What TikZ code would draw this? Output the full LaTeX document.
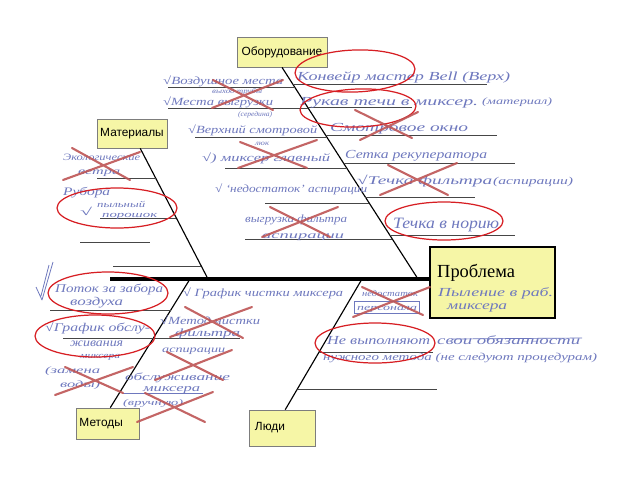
\documentclass[tikz,border=0pt]{standalone}
\usepackage{fontspec}
\usepackage{graphicx}
\setmainfont{Liberation Serif}
\newfontfamily\boxfont{Liberation Sans}
\newfontfamily\probfont{Liberation Serif}
\newfontfamily\handfont{Liberation Serif}
\newlength\pxu \setlength\pxu{0.04cm}
\newcommand\hw[3]{\resizebox{#1\pxu}{\height}{\fontsize{#2}{#2}\selectfont #3}}
\definecolor{boxy}{RGB}{246,246,166}
\definecolor{boxb}{RGB}{125,125,125}
\definecolor{hand}{RGB}{110,120,190}
\definecolor{ered}{RGB}{215,30,35}
\definecolor{xred}{RGB}{190,85,85}
\definecolor{subc}{RGB}{70,70,70}
\begin{document}
\begin{tikzpicture}[x=0.04cm,y=-0.04cm,
  box/.style={draw=boxb, line width=0.8pt, fill=boxy, font=\boxfont\fontsize{13.5}{14}\selectfont, inner sep=0pt},
  spine/.style={line width=4.5pt, black},
  bone/.style={line width=1.3pt, black},
  subl/.style={line width=1pt, subc},
  hwt/.style={anchor=base west, inner sep=0pt, text=hand, font=\handfont\itshape},
  redell/.style={draw=ered, line width=1.4pt},
  redx/.style={draw=xred, line width=2.4pt, line cap=round, opacity=0.9},
  handline/.style={draw=hand, line width=0.8pt}]
\useasboundingbox[fill=white] (0,0) rectangle (640,480);

% ---- boxes
\node[box, minimum width=3.6cm, minimum height=1.2cm] (eq) at (282,52) {Оборудование};
\node[box, minimum width=2.8cm, minimum height=1.16cm] (mat) at (132,133.5) {Материалы};
\node[box, minimum height=1.24cm, text width=2.24cm, inner xsep=0.14cm, align=left] (met) at (107.5,423.5) {Методы};
\node[box, minimum height=1.44cm, text width=2.16cm, inner xsep=0.24cm, align=left] (ppl) at (282,428) {Люди};
\node[draw=black, line width=3pt, fill=boxy, minimum width=5cm, minimum height=2.84cm] (prob) at (492.5,282.5) {};

% ---- spine and bones
\coordinate (sp) at (110,279);
\coordinate (eqE) at (418,279);
\coordinate (matE) at (208,279);
\coordinate (metS) at (190,279);
\coordinate (pplS) at (362,279);
\draw[spine] (sp) -- (sp -| prob.west);
\draw[bone] (eq.south) -- (eqE);
\draw[bone] (mat.299) -- (matE);
\draw[bone] (metS) -- (met.80);
\draw[bone] (pplS) -- (ppl.80);

% ---- sub-cause lines: equipment
\draw[subl] (168,87) -- (294.8,87);
\draw[subl] (168,108) -- (308.3,108);
\draw[subl] (195,137) -- (326.9,137);
\draw[subl] (225,168) -- (346.8,168);
\draw[subl] (265,203) -- (369.2,203);
\draw[subl] (245,239) -- (392.3,239);
\draw[subl] (292.9,84) -- (487,84);
\draw[subl] (307.7,107) -- (412,107);
\draw[subl] (325.6,135) -- (497,135);
\draw[subl] (343.6,163) -- (515,163);
\draw[subl] (365.4,197) -- (475,197);
\draw[subl] (389.8,235) -- (515,235);
% materials
\draw[subl] (97,178) -- (155.6,178);
\draw[subl] (100,218) -- (176.3,218);
\draw[subl] (80,242) -- (150,242);
\draw[subl] (113,266) -- (201.2,266);
% methods
\draw[subl] (50,310) -- (170.8,310);
\draw[subl] (63,338) -- (240,338);
% people
\draw[subl] (319.2,352) -- (433,352);
\draw[subl] (297.5,389) -- (437,389);

% ---- problem text
\node[anchor=base west, inner sep=0pt, font=\probfont\fontsize{21}{21}\selectfont] (ptitle) at (437,277) {Проблема};
\node[hwt] (p1) at (438,296) {\hw{115}{14}{Пыление в раб.}};
\node[hwt] (p2) at (447,309) {\hw{60}{14}{миксера}};

% ---- handwriting: equipment left
\node[hwt] (e1) at (163,84) {\hw{120}{12.5}{√Воздушное места}};
\node[hwt] (e2) at (212,93) {\hw{50}{8}{выход трубы}};
\node[hwt] (e3) at (163,105) {\hw{110}{12.5}{√Места выгрузки}};
\node[hwt] (e4) at (238,116) {\hw{34}{8}{(середина)}};
\node[hwt] (e5) at (188,133) {\hw{129}{12.5}{√Верхний смотровой}};
\node[hwt] (e6) at (255,145) {\hw{14}{8}{люк}};
\node[hwt] (e7) at (202,161) {\hw{128}{12.5}{√) миксер главный}};
\node[hwt] (e8) at (215,192) {\hw{152}{12.5}{√ ‘недостаток’ аспирации}};
\node[hwt] (e9) at (245,222) {\hw{102}{12.5}{выгрузка фильтра}};
\node[hwt] (e10) at (262,238) {\hw{82}{11.5}{аспирации}};
% equipment right
\node[hwt] (r1) at (297,80) {\hw{213}{14}{Конвейр мастер Bell (Верх)}};
\node[hwt] (r2) at (300,105) {\hw{178}{14}{Рукав течи в миксер.}};
\node[hwt] (r3) at (482,104) {\hw{70}{11}{(материал)}};
\node[hwt] (r4) at (330,131) {\hw{138}{14}{Смотровое окно}};
\node[hwt] (r5) at (345,158) {\hw{142}{14}{Сетка рекуператора}};
\node[hwt] (r6) at (357,184) {\hw{135}{13.5}{√Течка фильтра}};
\node[hwt] (r7) at (493,184) {\hw{80}{12}{(аспирации)}};
\node[hwt] (r8) at (393,228) {\hw{106}{18}{Течка в норию}};
% materials
\node[hwt] (m1) at (63,160) {\hw{77}{11}{Экологические}};
\node[hwt] (m2) at (78,174) {\hw{42}{11}{ветра}};
\node[hwt] (m3) at (63,195) {\hw{47}{13}{Рубора}};
\node[hwt] (m4) at (80,215) {\hw{12}{12}{√}};
\node[hwt] (m5) at (97,207) {\hw{48}{10}{пыльный}};
\node[hwt] (m6) at (102,217) {\hw{55}{10}{порошок}};
% methods
\draw[handline, line width=0.9pt, line join=round] (36,287) -- (42,300) -- (53,262) (41,296) -- (49,265);
\node[hwt] (k1) at (55,292) {\hw{108}{13.5}{Поток за забора}};
\node[hwt] (k2) at (70,305) {\hw{53}{13.5}{воздуха}};
\node[hwt] (k3) at (45,331) {\hw{105}{13.5}{√График обслу-}};
\node[hwt] (k4) at (70,346) {\hw{53}{13.5}{живания}};
\node[hwt] (k5) at (80,358) {\hw{40}{10}{миксера}};
\node[hwt] (k6) at (45,373) {\hw{55}{11}{(замена}};
\node[hwt] (k7) at (60,387) {\hw{40}{11}{воды)}};
\node[hwt] (k8) at (183,296) {\hw{160}{12.5}{√ График чистки миксера}};
\node[hwt] (k9) at (160,324) {\hw{100}{12.5}{√Метод чистки}};
\node[hwt] (k10) at (175,336) {\hw{65}{12.5}{фильтра}};
\node[hwt] (k11) at (162,352) {\hw{63}{11}{аспирации}};
\node[hwt] (k12) at (125,380) {\hw{105}{12}{обслуживание}};
\node[hwt] (k13) at (143,391) {\hw{57}{12}{миксера}};
\node[hwt] (k14) at (123,405) {\hw{60}{10}{(вручную)}};
\draw[handline] (123,393) -- (203,393);
% people
\node[hwt] (h1) at (362,296) {\hw{56}{10}{недостаток}};
\node[hwt] (h2) at (357,310) {\hw{60}{10}{персонала}};
\draw[handline] (354,301) rectangle (419,313);
\node[hwt] (h3) at (327,344) {\hw{103}{14}{Не выполняют}};
\node[hwt] (h4) at (437,344) {\hw{143}{14}{свои обязанности}};
\draw[handline] (453,339) -- (582,338);
\node[hwt] (h5) at (323,360) {\hw{274}{12}{нужного метода (не следуют процедурам)}};

% ---- red ellipses
\draw[redell] (355,71) ellipse [x radius=60, y radius=21, rotate=2];
\draw[redell] (358,108) ellipse [x radius=58, y radius=19, rotate=2];
\draw[redell] (444,221) ellipse [x radius=59, y radius=19];
\draw[redell] (117,208) ellipse [x radius=60, y radius=20];
\draw[redell] (108,293) ellipse [x radius=60, y radius=21];
\draw[redell] (95,336) ellipse [x radius=60, y radius=21];
\draw[redell] (375,343) ellipse [x radius=60, y radius=20];

% ---- red crosses
\draw[redx] (213,80) -- (273,110) (283,80) -- (212,108);
\draw[redx] (355,110) -- (412,138) (418,112) -- (360,140);
\draw[redx] (240,142) -- (307,168) (317,140) -- (238,168);
\draw[redx] (380,195) -- (457,163) (388,165) -- (448,195);
\draw[redx] (262,237) -- (338,207) (270,207) -- (330,237);
\draw[redx] (72,148) -- (130,180) (140,152) -- (63,180);
\draw[redx] (170,337) -- (252,307) (185,307) -- (243,338);
\draw[redx] (155,380) -- (232,350) (167,352) -- (223,380);
\draw[redx] (55,395) -- (133,367) (65,367) -- (123,393);
\draw[redx] (137,422) -- (213,392) (145,393) -- (205,422);
\draw[redx] (362,287) -- (423,315) (430,287) -- (353,317);
\end{tikzpicture}
\end{document}
